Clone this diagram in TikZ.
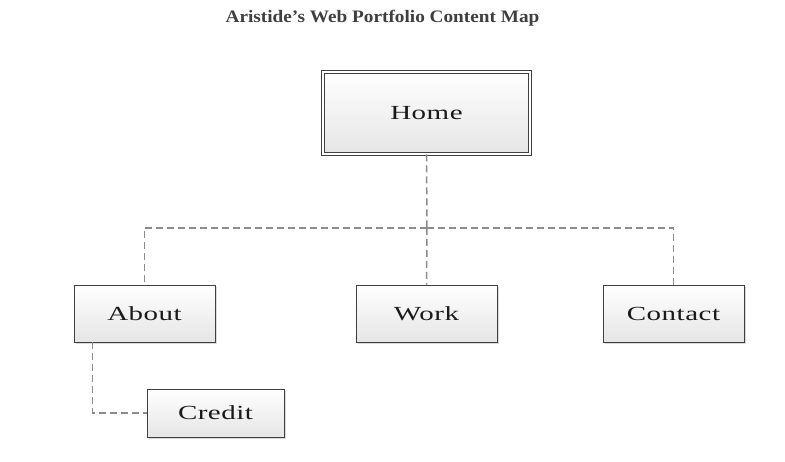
\documentclass[tikz,border=0pt]{standalone}
\usepackage{fontspec}
\setmainfont{Liberation Serif}
\newfontfamily\boxfont[FakeStretch=1.45,LetterSpace=2.5]{Liberation Serif}
\newfontfamily\titlefont[FakeStretch=1.1]{Liberation Serif}
\usetikzlibrary{shadows}
\definecolor{boxline}{HTML}{404040}
\definecolor{dashgray}{HTML}{8C8C8C}
\definecolor{titlegray}{HTML}{3F3F3F}
\definecolor{boxtext}{HTML}{1A1A1A}
\tikzset{
  pagebox/.style={draw=boxline, line width=0.8pt, top color=white, bottom color=black!10,
    minimum width=141pt, minimum height=57pt, inner sep=0pt, text=boxtext, font=\boxfont\fontsize{20}{24}\selectfont,
    drop shadow={shadow xshift=2pt, shadow yshift=-2pt, fill=black!25, opacity=0.6}},
  homebox/.style={pagebox, double=white, double distance=2.4pt, line width=0.7pt,
    minimum width=207pt, minimum height=82pt},
  link/.style={draw=dashgray, line width=1.5pt, dash pattern=on 7pt off 4pt}
}
\begin{document}
\begin{tikzpicture}[x=1pt,y=-1pt]
\useasboundingbox (0,0) rectangle (785,462);
\node[font=\titlefont\bfseries\fontsize{17.5}{20}\selectfont, text=titlegray, anchor=base, inner sep=0pt] (title) at (382.5,22.3) {Aristide’s Web Portfolio Content Map};
\coordinate (hub) at (427,228);
\node[homebox] (home) at (426.5,113) {Home};
\node[pagebox] (about) at (144.5,313.5) {About};
\node[pagebox] (work) at (426.5,313.5) {Work};
\node[pagebox] (contact) at (673.5,313.5) {Contact};
\node[pagebox, minimum width=137pt, minimum height=48pt] (credit) at (215.5,413) {Credit};
\draw[link] (home.south) -- (hub);
\draw[link] (hub) -| (about.north);
\draw[link] (hub) -| (contact.north);
\draw[link] (hub) -- (work.north);
\draw[link] ([xshift=-52pt]about.south) |- (credit.west);
\end{tikzpicture}
\end{document}
